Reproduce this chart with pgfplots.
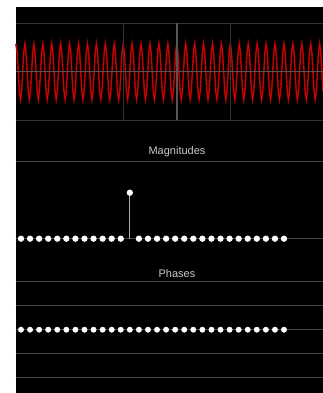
\documentclass[border=0pt]{standalone}
\usepackage{pgfplots}
\usepackage{pgfplotstable}
\pgfplotsset{compat=1.18}
\usepackage{fontspec}
\setmainfont{Liberation Sans}
\definecolor{gridA}{HTML}{333333}
\definecolor{gridB}{HTML}{555555}
\definecolor{gridC}{HTML}{444444}
\definecolor{stemc}{HTML}{AAAAAA}
\definecolor{titlec}{HTML}{C8C8C8}
\definecolor{darkred}{HTML}{990000}

\pgfplotstableread[row sep=\\]{
x y\\
0 1\\ 1 .707\\ 2 0\\ 3 -.707\\ 4 -1\\ 5 -.707\\ 6 0\\ 7 .707\\
8 1\\ 9 .707\\ 10 0\\ 11 -.707\\ 12 -1\\ 13 -.707\\ 14 0\\ 15 .707\\
16 1\\ 17 .707\\ 18 0\\ 19 -.707\\ 20 -1\\ 21 -.707\\ 22 0\\ 23 .707\\
24 1\\ 25 .707\\ 26 0\\ 27 -.707\\ 28 -1\\ 29 -.707\\ 30 0\\ 31 .707\\
32 1\\ 33 .707\\ 34 0\\ 35 -.707\\ 36 -1\\ 37 -.707\\ 38 0\\ 39 .707\\
40 1\\ 41 .707\\ 42 0\\ 43 -.707\\ 44 -1\\ 45 -.707\\ 46 0\\ 47 .707\\
48 1\\ 49 .707\\ 50 0\\ 51 -.707\\ 52 -1\\ 53 -.707\\ 54 0\\ 55 .707\\
56 1\\ 57 .707\\ 58 0\\ 59 -.707\\ 60 -1\\ 61 -.707\\ 62 0\\ 63 .707\\
64 1\\ 65 .707\\ 66 0\\ 67 -.707\\ 68 -1\\ 69 -.707\\ 70 0\\ 71 .707\\
72 1\\ 73 .707\\ 74 0\\ 75 -.707\\ 76 -1\\ 77 -.707\\ 78 0\\ 79 .707\\
80 1\\ 81 .707\\ 82 0\\ 83 -.707\\ 84 -1\\ 85 -.707\\ 86 0\\ 87 .707\\
88 1\\ 89 .707\\ 90 0\\ 91 -.707\\ 92 -1\\ 93 -.707\\ 94 0\\ 95 .707\\
96 1\\ 97 .707\\ 98 0\\ 99 -.707\\ 100 -1\\ 101 -.707\\ 102 0\\ 103 .707\\
104 1\\ 105 .707\\ 106 0\\ 107 -.707\\ 108 -1\\ 109 -.707\\ 110 0\\ 111 .707\\
112 1\\ 113 .707\\ 114 0\\ 115 -.707\\ 116 -1\\ 117 -.707\\ 118 0\\ 119 .707\\
120 1\\ 121 .707\\ 122 0\\ 123 -.707\\ 124 -1\\ 125 -.707\\ 126 0\\ 127 .707\\
128 1\\ 129 .707\\ 130 0\\ 131 -.707\\ 132 -1\\ 133 -.707\\ 134 0\\ 135 .707\\
136 1\\ 137 .707\\ 138 0\\ 139 -.707\\ 140 -1\\ 141 -.707\\ 142 0\\ 143 .707\\
144 1\\ 145 .707\\ 146 0\\ 147 -.707\\ 148 -1\\ 149 -.707\\ 150 0\\ 151 .707\\
152 1\\ 153 .707\\ 154 0\\ 155 -.707\\ 156 -1\\ 157 -.707\\ 158 0\\ 159 .707\\
160 1\\ 161 .707\\ 162 0\\ 163 -.707\\ 164 -1\\ 165 -.707\\ 166 0\\ 167 .707\\
168 1\\ 169 .707\\ 170 0\\ 171 -.707\\ 172 -1\\ 173 -.707\\ 174 0\\ 175 .707\\
176 1\\ 177 .707\\ 178 0\\ 179 -.707\\ 180 -1\\ 181 -.707\\ 182 0\\ 183 .707\\
184 1\\ 185 .707\\ 186 0\\ 187 -.707\\ 188 -1\\ 189 -.707\\ 190 0\\ 191 .707\\
192 1\\ 193 .707\\ 194 0\\ 195 -.707\\ 196 -1\\ 197 -.707\\ 198 0\\ 199 .707\\
200 1\\ 201 .707\\ 202 0\\ 203 -.707\\ 204 -1\\ 205 -.707\\ 206 0\\ 207 .707\\
208 1\\ 209 .707\\ 210 0\\ 211 -.707\\ 212 -1\\ 213 -.707\\ 214 0\\ 215 .707\\
216 1\\ 217 .707\\ 218 0\\ 219 -.707\\ 220 -1\\ 221 -.707\\ 222 0\\ 223 .707\\
224 1\\ 225 .707\\ 226 0\\ 227 -.707\\ 228 -1\\ 229 -.707\\ 230 0\\ 231 .707\\
232 1\\ 233 .707\\ 234 0\\ 235 -.707\\ 236 -1\\ 237 -.707\\ 238 0\\ 239 .707\\
240 1\\ 241 .707\\ 242 0\\ 243 -.707\\ 244 -1\\ 245 -.707\\ 246 0\\ 247 .707\\
248 1\\ 249 .707\\ 250 0\\ 251 -.707\\ 252 -1\\ 253 -.707\\ 254 0\\ 255 .707\\
256 1\\ 257 .707\\ 258 0\\ 259 -.707\\ 260 -1\\ 261 -.707\\ 262 0\\ 263 .707\\
264 1\\ 265 .707\\ 266 0\\ 267 -.707\\ 268 -1\\ 269 -.707\\ 270 0\\ 271 .707\\
272 1\\ 273 .707\\ 274 0\\ 275 -.707\\
}\wave

\pgfplotstableread[row sep=\\]{
k m\\
0 0\\ 1 0\\ 2 0\\ 3 0\\ 4 0\\ 5 0\\ 6 0\\ 7 0\\ 8 0\\ 9 0\\
10 0\\ 11 0\\ 12 1\\ 13 0\\ 14 0\\ 15 0\\ 16 0\\ 17 0\\ 18 0\\ 19 0\\
20 0\\ 21 0\\ 22 0\\ 23 0\\ 24 0\\ 25 0\\ 26 0\\ 27 0\\ 28 0\\ 29 0\\
}\mags

\pgfplotstableread[row sep=\\]{
k p\\
0 0\\ 1 0\\ 2 0\\ 3 0\\ 4 0\\ 5 0\\ 6 0\\ 7 0\\ 8 0\\ 9 0\\
10 0\\ 11 0\\ 12 0\\ 13 0\\ 14 0\\ 15 0\\ 16 0\\ 17 0\\ 18 0\\ 19 0\\
20 0\\ 21 0\\ 22 0\\ 23 0\\ 24 0\\ 25 0\\ 26 0\\ 27 0\\ 28 0\\ 29 0\\
}\phases

\pgfplotsset{
  panel/.style={
    scale only axis, width=307pt,
    axis line style={draw=none},
    major tick length=0pt,
    xticklabels={}, yticklabels={},
    extra x tick labels={}, extra y tick labels={},
    grid=major,
    major grid style={draw=gridC, line width=0.8pt},
    clip=false,
  }
}

\begin{document}
\begin{tikzpicture}[x=1pt,y=1pt]
\useasboundingbox (0,0) rectangle (323,393);
\fill[black] (16,0) rectangle (323,386);

% time signal
\begin{axis}[panel,
  at={(16pt,273pt)}, anchor=south west, height=96.5pt,
  xmin=0, xmax=275, ymin=-1.73, ymax=1.73,
  xtick={95.85,191.7}, ytick={-1.73,1.73},
  major grid style={draw=gridA, line width=0.9pt},
  extra x ticks={144.2}, extra y ticks={0},
  extra tick style={grid=major, major grid style={draw=gridB, line width=1.2pt}},
  axis on top,
]
\addplot[draw=darkred, line width=1.6pt] table[x=x,y=y] {\wave};
\addplot[draw=red!90!black, line width=0.6pt] table[x=x,y=y] {\wave};
\end{axis}

% magnitudes
\begin{axis}[panel,
  at={(16pt,154.3pt)}, anchor=south west, height=77pt,
  xmin=-0.551, xmax=33.3, ymin=0, ymax=1.674,
  xtick=\empty, ytick={0,1.674},
  major grid style={draw=gridC, line width=0.9pt},
]
\addplot[ycomb, draw=stemc, line width=0.8pt, mark=*, mark size=2.7pt,
  mark options={draw=white, fill=white}] table[x=k,y=m] {\mags};
\end{axis}
\node[text=titlec, font=\fontsize{11}{13}\selectfont] at (177,241) {Magnitudes};

% phases
\begin{axis}[panel,
  at={(16pt,15.3pt)}, anchor=south west, height=96pt,
  xmin=-0.551, xmax=33.3, ymin=-2, ymax=2,
  xtick=\empty, ytick={-2,-1,0,1,2},
  major grid style={draw=gridC, line width=0.9pt},
]
\addplot[only marks, mark=*, mark size=2.7pt,
  mark options={draw=white, fill=white}] table[x=k,y=p] {\phases};
\end{axis}
\node[text=titlec, font=\fontsize{11}{13}\selectfont] at (177,119) {Phases};
\end{tikzpicture}
\end{document}
